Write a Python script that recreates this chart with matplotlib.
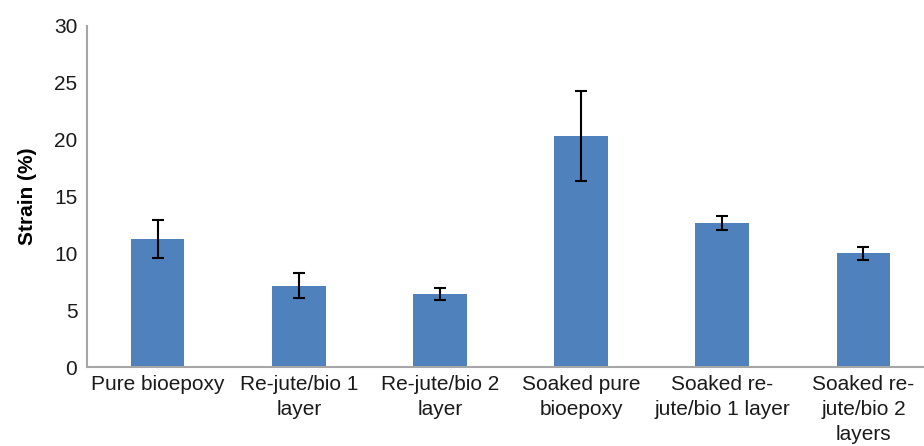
import matplotlib
matplotlib.use("Agg")
import matplotlib.pyplot as plt
import numpy as np

plt.rcParams['font.family'] = ['Liberation Sans', 'DejaVu Sans']

# strain at break for each sample type, mean and deviation (%)
muestras = ["Pure bioepoxy", "Re-jute/bio 1\nlayer", "Re-jute/bio 2\nlayer",
            "Soaked pure\nbioepoxy", "Soaked re-\njute/bio 1 layer",
            "Soaked re-\njute/bio 2\nlayers"]
strain = [11.25, 7.15, 6.4, 20.35, 12.65, 10.0]
desviacion = [1.7, 1.1, 0.52, 3.95, 0.6, 0.6]

fig = plt.figure(figsize=(9.24, 4.46), dpi=100)
ax = fig.add_axes([0.0942, 0.177, 0.9167, 0.765])

x = np.arange(len(muestras))
ax.bar(x, strain, width=0.38, color="#4F81BD", zorder=2)
ax.errorbar(x, strain, yerr=desviacion, fmt="none", ecolor="black",
            elinewidth=1.5, capsize=4, capthick=1.5, zorder=3)

ax.set_xlim(-0.5, 5.5)
ax.set_ylim(0, 30)
ax.set_yticks(range(0, 31, 5))
ax.set_xticks(x)
ax.set_xticklabels(muestras, fontsize=15, color="#1a1a1a", linespacing=1.38)
ax.tick_params(axis="both", length=0, labelsize=15, colors="#1a1a1a")
ax.tick_params(axis="y", pad=7)
ax.tick_params(axis="x", pad=6)
ax.set_ylabel("Strain (%)", fontsize=15, fontweight="bold", labelpad=12)

for lado in ["top", "right"]:
    ax.spines[lado].set_visible(False)
for lado in ["left", "bottom"]:
    ax.spines[lado].set_color("#A6A6A6")
    ax.spines[lado].set_linewidth(1.5)

fig.savefig("out.png", dpi=100)
